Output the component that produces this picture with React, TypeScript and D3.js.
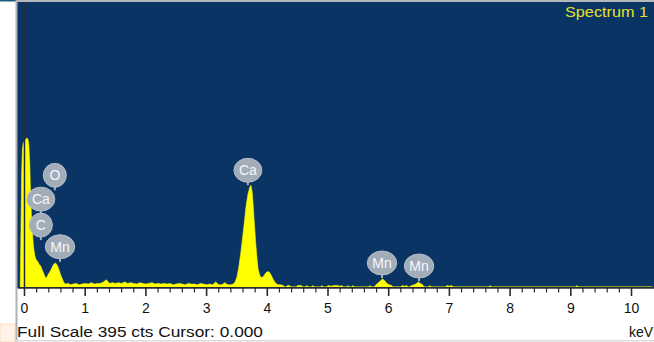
import { useEffect, useRef } from "react"
import * as d3 from "d3"

const WIDTH = 654
const HEIGHT = 342

// spectrum as [keV, counts]
const lowEnergyPeak: [number, number][] = [
  [-0.07, 0], [-0.058, 80], [-0.046, 160], [-0.034, 192], [-0.02, 199],
  [-0.01, 201], [0, 203], [0.015, 204], [0.03, 206], [0.045, 206], [0.06, 204],
  [0.072, 196], [0.086, 172], [0.1, 128], [0.114, 98], [0.128, 79], [0.145, 58],
  [0.168, 44], [0.19, 38], [0.22, 35], [0.245, 31], [0.267, 29], [0.285, 25],
  [0.305, 21], [0.33, 16], [0.35, 12], [0.37, 14], [0.387, 17], [0.41, 20],
  [0.437, 24], [0.47, 30], [0.5, 33], [0.515, 33], [0.54, 30], [0.568, 24],
  [0.595, 17], [0.618, 12], [0.65, 6], [0.68, 4], [0.72, 5], [0.76, 3], [0.8, 4],
]

const background: [number, number][] = [
  [0.85, 5], [0.9, 3], [0.95, 4], [1.0, 5], [1.05, 4], [1.1, 6], [1.15, 4], [1.2, 5],
  [1.25, 5], [1.3, 7], [1.35, 10], [1.4, 5], [1.45, 6], [1.5, 5], [1.55, 6], [1.6, 5],
  [1.65, 7], [1.7, 5], [1.75, 6], [1.8, 5], [1.85, 4], [1.9, 6], [1.95, 5], [2.0, 4],
  [2.05, 5], [2.1, 6], [2.15, 4], [2.2, 5], [2.25, 4], [2.3, 5], [2.35, 4], [2.4, 5],
  [2.45, 3], [2.5, 4], [2.55, 5], [2.6, 4], [2.65, 3], [2.7, 5], [2.75, 4], [2.8, 4],
  [2.85, 3], [2.9, 5], [2.95, 4], [3.0, 3], [3.05, 4], [3.1, 3], [3.15, 7], [3.2, 3],
  [3.25, 3], [3.3, 6], [3.35, 3], [3.4, 3],
]

const calciumPeak: [number, number][] = [
  [3.44, 4], [3.47, 7], [3.5, 14], [3.53, 27], [3.56, 45], [3.59, 66], [3.62, 88],
  [3.65, 112], [3.68, 128], [3.71, 138], [3.73, 141], [3.75, 132], [3.77, 110],
  [3.79, 84], [3.81, 60], [3.83, 40], [3.85, 24], [3.88, 15], [3.91, 13], [3.94, 15],
  [3.97, 19], [4.0, 21], [4.03, 21], [4.06, 17], [4.1, 10], [4.14, 5], [4.18, 3],
  [4.22, 3], [4.26, 2], [4.29, 0],
]

const tail: [number, number][] = [
  [4.31, 0], [4.33, 2], [4.37, 2], [4.39, 0], [4.48, 0], [4.5, 2], [4.56, 2], [4.58, 0],
  [4.63, 0], [4.65, 2], [4.67, 0], [4.73, 0], [4.75, 2], [4.77, 0], [4.88, 0], [4.9, 2],
  [4.92, 0], [4.98, 0], [5.0, 2], [5.05, 1], [5.1, 2], [5.15, 2], [5.2, 1], [5.23, 2],
  [5.25, 0], [5.31, 0], [5.33, 2], [5.35, 0], [5.39, 0], [5.41, 2], [5.43, 0], [5.67, 0],
  [5.69, 2], [5.71, 0], [5.76, 0], [5.79, 3], [5.83, 6], [5.87, 9], [5.9, 11], [5.93, 9],
  [5.97, 5], [6.01, 3], [6.05, 2], [6.07, 0], [6.2, 0], [6.22, 2], [6.26, 1], [6.3, 2],
  [6.32, 0], [6.35, 0], [6.37, 2], [6.42, 3], [6.46, 5], [6.49, 7], [6.52, 5], [6.56, 3],
  [6.58, 0], [6.66, 0], [6.68, 2], [6.7, 0], [6.94, 0], [6.96, 2], [7.0, 1], [7.04, 2],
  [7.06, 0], [7.65, 0], [7.67, 2], [7.69, 0], [9.08, 0], [9.1, 2], [9.12, 0], [10.35, 0],
]

// peak labels: element, keV, count where the stem points
const labelElements = ["O", "Ca", "C", "Mn", "Ca", "Mn", "Mn"]
const labelEnergies = [0.5, 0.27, 0.27, 0.585, 3.68, 5.89, 6.5]
const labelCounts = [134, 101, 65, 35, 141, 12.5, 8.3]

const tickLabels = ["0", "1", "2", "3", "4", "5", "6", "7", "8", "9", "10"]
const FULL_SCALE = 395

export default function App() {
  const svgRef = useRef<SVGSVGElement>(null)

  useEffect(() => {
    if (!svgRef.current) return
    const svg = d3.select(svgRef.current)
    svg.selectAll("*").remove()

    const plot = { left: 17, top: 2, right: WIDTH, bottom: 287 }
    const x = d3.scaleLinear().domain([0, 10]).range([24.5, 631.5])
    const y = d3.scaleLinear().domain([0, FULL_SCALE]).range([plot.bottom, plot.top])

    svg.append("rect").attr("width", WIDTH).attr("height", HEIGHT).attr("fill", "#ffffff")

    // little beige box bottom-left
    svg.append("rect")
      .attr("x", 0).attr("y", 324).attr("width", 15).attr("height", 18)
      .attr("fill", "#fef3e6").attr("stroke", "#f6dcc0").attr("stroke-width", 1)

    // plot background
    svg.append("rect")
      .attr("x", plot.left).attr("y", plot.top)
      .attr("width", plot.right - plot.left).attr("height", plot.bottom - plot.top + 1)
      .attr("fill", "#0a3463")

    svg.append("rect").attr("x", 0).attr("y", 0).attr("width", 16).attr("height", 1.5).attr("fill", "#1c5c79")
    svg.append("rect").attr("x", 16).attr("y", 0).attr("width", WIDTH - 16).attr("height", 2).attr("fill", "#b4b8bd")
    svg.append("rect").attr("x", 15.5).attr("y", 0).attr("width", 2).attr("height", HEIGHT).attr("fill", "#aeb2b7")
    svg.append("rect").attr("x", 16).attr("y", 340).attr("width", WIDTH - 16).attr("height", 1.5).attr("fill", "#dcdcdc")

    svg.append("clipPath").attr("id", "plot-clip")
      .append("rect")
      .attr("x", plot.left + 1.5).attr("y", plot.top)
      .attr("width", plot.right - plot.left).attr("height", plot.bottom - plot.top)

    const data = [...lowEnergyPeak, ...background, ...calciumPeak, ...tail]
    const area = d3.area<[number, number]>()
      .x((d) => x(d[0]))
      .y0(y(0))
      .y1((d) => y(d[1]))

    svg.append("path")
      .datum(data)
      .attr("clip-path", "url(#plot-clip)")
      .attr("d", area)
      .attr("fill", "#ffff00")
      .attr("stroke", "#ffff00")
      .attr("stroke-width", 0.6)

    // zero line
    svg.append("line")
      .attr("x1", x(0)).attr("x2", x(0))
      .attr("y1", plot.top).attr("y2", plot.bottom + 1)
      .attr("stroke", "#222c38").attr("stroke-width", 1.5)

    // axis line and ticks
    const axisY = 288
    svg.append("line")
      .attr("x1", plot.left + 1).attr("x2", WIDTH)
      .attr("y1", axisY).attr("y2", axisY)
      .attr("stroke", "#2b2b2b").attr("stroke-width", 1.5)

    const minor = d3.range(0, 51).map((i) => i / 5)
    svg.append("g")
      .selectAll("line")
      .data(minor)
      .enter()
      .append("line")
      .attr("x1", (d) => x(d)).attr("x2", (d) => x(d))
      .attr("y1", axisY)
      .attr("y2", (d, i) => (i % 5 === 0 ? axisY + 8 : axisY + 4.5))
      .attr("stroke", "#2b2b2b")
      .attr("stroke-width", (d, i) => (i % 5 === 0 ? 1.6 : 1.2))

    svg.append("g")
      .selectAll("text")
      .data(tickLabels)
      .enter()
      .append("text")
      .attr("x", (d) => x(+d))
      .attr("y", 313)
      .attr("text-anchor", "middle")
      .attr("font-family", "Liberation Sans, Arial, sans-serif")
      .attr("font-size", "14px")
      .attr("fill", "#111111")
      .text((d) => d)

    svg.append("text")
      .attr("x", 17).attr("y", 337)
      .attr("font-family", "Liberation Sans, Arial, sans-serif")
      .attr("font-size", "14px")
      .attr("fill", "#111111")
      .attr("textLength", 246)
      .attr("lengthAdjust", "spacingAndGlyphs")
      .text(`Full Scale ${FULL_SCALE} cts Cursor: 0.000`)

    svg.append("text")
      .attr("x", 653).attr("y", 337)
      .attr("text-anchor", "end")
      .attr("font-family", "Liberation Sans, Arial, sans-serif")
      .attr("font-size", "14px")
      .attr("fill", "#111111")
      .text("keV")

    svg.append("text")
      .attr("x", 648).attr("y", 17)
      .attr("text-anchor", "end")
      .attr("font-family", "Liberation Sans, Arial, sans-serif")
      .attr("font-size", "15px")
      .attr("fill", "#e2e22a")
      .attr("textLength", 83)
      .attr("lengthAdjust", "spacingAndGlyphs")
      .text("Spectrum 1")

    // peak label bubbles
    const ry = 12
    const stem = 4
    labelElements.forEach((el, i) => {
      const cx = x(labelEnergies[i])
      const tipY = y(labelCounts[i])
      const cy = tipY - stem - ry + 1
      const g = svg.append("g")
      const stemLine = g.append("line")
        .attr("x1", cx).attr("x2", cx)
        .attr("y1", cy + ry - 1).attr("y2", tipY)
        .attr("stroke", "#a6aebb").attr("stroke-width", 2)
      const bubble = g.append("ellipse").attr("cx", cx).attr("cy", cy)
      const label = g.append("text")
        .attr("x", cx).attr("y", cy + 5)
        .attr("text-anchor", "middle")
        .attr("font-family", "Liberation Sans, Arial, sans-serif")
        .attr("font-size", "14px")
        .attr("fill", "#f6f7f9")
        .text(el)
      const tw = (label.node() as SVGTextElement).getComputedTextLength()
      bubble
        .attr("rx", Math.max(11.5, tw / 2 + 5))
        .attr("ry", ry)
        .attr("fill", "#a3acb9")
        .attr("stroke", "#b6bdc8")
        .attr("stroke-width", 1)
      stemLine.lower()
    })
  }, [])

  return (
    <svg
      ref={svgRef}
      width={WIDTH}
      height={HEIGHT}
      style={{ position: "absolute", left: 0, top: 0, display: "block" }}
    />
  )
}
